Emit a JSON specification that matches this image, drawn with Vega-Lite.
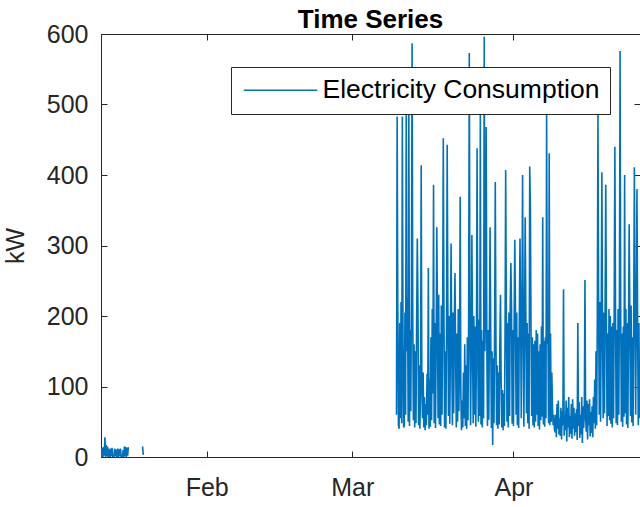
{
  "$schema": "https://vega.github.io/schema/vega-lite/v6.json",
  "width": 539,
  "height": 423,
  "autosize": {"type": "none"},
  "padding": {"left": 101, "top": 34, "right": 0, "bottom": 50},
  "background": "white",
  "title": {"text": "Time Series", "anchor": "middle", "font": "Liberation Sans", "fontSize": 26, "fontWeight": "bold", "color": "#000000", "offset": -11},
  "data": {"values": [
    {"t":"2023-01-11T16:00","v":12},{"t":"2023-01-11T19:00","v":0},{"t":"2023-01-11T22:00","v":13},
    {"t":"2023-01-12T01:00","v":0},{"t":"2023-01-12T04:00","v":14},{"t":"2023-01-12T07:00","v":2},{"t":"2023-01-12T10:00","v":28},{"t":"2023-01-12T13:00","v":0},{"t":"2023-01-12T16:00","v":17},{"t":"2023-01-12T19:00","v":1},{"t":"2023-01-12T22:00","v":15},
    {"t":"2023-01-13T01:00","v":0},{"t":"2023-01-13T04:00","v":12},{"t":"2023-01-13T07:00","v":0},{"t":"2023-01-13T10:00","v":0},{"t":"2023-01-13T13:00","v":12},{"t":"2023-01-13T16:00","v":1},{"t":"2023-01-13T19:00","v":13},{"t":"2023-01-13T22:00","v":0},
    {"t":"2023-01-14T01:00","v":0},{"t":"2023-01-14T04:00","v":0},{"t":"2023-01-14T07:00","v":12},{"t":"2023-01-14T10:00","v":1},{"t":"2023-01-14T13:00","v":11},{"t":"2023-01-14T16:00","v":0},{"t":"2023-01-14T19:00","v":0},{"t":"2023-01-14T22:00","v":12},
    {"t":"2023-01-15T01:00","v":0},{"t":"2023-01-15T04:00","v":11},{"t":"2023-01-15T07:00","v":1},{"t":"2023-01-15T10:00","v":12},{"t":"2023-01-15T13:00","v":0},{"t":"2023-01-15T16:00","v":0},{"t":"2023-01-15T19:00","v":0},{"t":"2023-01-15T22:00","v":10},
    {"t":"2023-01-16T01:00","v":0},{"t":"2023-01-16T04:00","v":15},{"t":"2023-01-16T07:00","v":1},{"t":"2023-01-16T10:00","v":14},{"t":"2023-01-16T13:00","v":0},{"t":"2023-01-16T16:00","v":13},{"t":"2023-01-16T19:00","v":2},{"t":"2023-01-16T22:00","v":14},
    {"t":"2023-01-17T01:00","v":null},
    {"t":"2023-01-19T16:00","v":15},{"t":"2023-01-19T19:00","v":3},
    {"t":"2023-01-20T00:00","v":null},
    {"t":"2023-03-09T12:00","v":60},{"t":"2023-03-09T15:00","v":483},{"t":"2023-03-09T18:00","v":210},{"t":"2023-03-09T21:00","v":45},
    {"t":"2023-03-10T00:00","v":40},{"t":"2023-03-10T03:00","v":190},{"t":"2023-03-10T06:00","v":55},{"t":"2023-03-10T09:00","v":220},{"t":"2023-03-10T12:00","v":48},{"t":"2023-03-10T15:00","v":483},{"t":"2023-03-10T18:00","v":170},{"t":"2023-03-10T21:00","v":42},
    {"t":"2023-03-11T00:00","v":45},{"t":"2023-03-11T03:00","v":205},{"t":"2023-03-11T06:00","v":60},{"t":"2023-03-11T09:00","v":520},{"t":"2023-03-11T12:00","v":150},{"t":"2023-03-11T15:00","v":225},{"t":"2023-03-11T18:00","v":50},{"t":"2023-03-11T21:00","v":500},
    {"t":"2023-03-12T00:00","v":44},{"t":"2023-03-12T03:00","v":180},{"t":"2023-03-12T06:00","v":65},{"t":"2023-03-12T09:00","v":230},{"t":"2023-03-12T12:00","v":587},{"t":"2023-03-12T15:00","v":200},{"t":"2023-03-12T18:00","v":52},{"t":"2023-03-12T21:00","v":160},
    {"t":"2023-03-13T00:00","v":42},{"t":"2023-03-13T03:00","v":150},{"t":"2023-03-13T06:00","v":48},{"t":"2023-03-13T09:00","v":190},{"t":"2023-03-13T12:00","v":310},{"t":"2023-03-13T15:00","v":215},{"t":"2023-03-13T18:00","v":45},{"t":"2023-03-13T21:00","v":130},
    {"t":"2023-03-14T00:00","v":40},{"t":"2023-03-14T03:00","v":95},{"t":"2023-03-14T06:00","v":414},{"t":"2023-03-14T09:00","v":110},{"t":"2023-03-14T12:00","v":55},{"t":"2023-03-14T15:00","v":120},{"t":"2023-03-14T18:00","v":42},{"t":"2023-03-14T21:00","v":85},
    {"t":"2023-03-15T00:00","v":38},{"t":"2023-03-15T03:00","v":75},{"t":"2023-03-15T06:00","v":45},{"t":"2023-03-15T09:00","v":118},{"t":"2023-03-15T12:00","v":60},{"t":"2023-03-15T15:00","v":268},{"t":"2023-03-15T18:00","v":40},{"t":"2023-03-15T21:00","v":110},
    {"t":"2023-03-16T00:00","v":43},{"t":"2023-03-16T03:00","v":170},{"t":"2023-03-16T06:00","v":52},{"t":"2023-03-16T09:00","v":210},{"t":"2023-03-16T12:00","v":90},{"t":"2023-03-16T15:00","v":386},{"t":"2023-03-16T18:00","v":48},{"t":"2023-03-16T21:00","v":190},
    {"t":"2023-03-17T00:00","v":41},{"t":"2023-03-17T03:00","v":160},{"t":"2023-03-17T06:00","v":326},{"t":"2023-03-17T09:00","v":200},{"t":"2023-03-17T12:00","v":55},{"t":"2023-03-17T15:00","v":230},{"t":"2023-03-17T18:00","v":46},{"t":"2023-03-17T21:00","v":175},
    {"t":"2023-03-18T00:00","v":44},{"t":"2023-03-18T03:00","v":215},{"t":"2023-03-18T06:00","v":60},{"t":"2023-03-18T09:00","v":195},{"t":"2023-03-18T12:00","v":452},{"t":"2023-03-18T15:00","v":205},{"t":"2023-03-18T18:00","v":42},{"t":"2023-03-18T21:00","v":150},
    {"t":"2023-03-19T00:00","v":40},{"t":"2023-03-19T03:00","v":180},{"t":"2023-03-19T06:00","v":443},{"t":"2023-03-19T09:00","v":220},{"t":"2023-03-19T12:00","v":58},{"t":"2023-03-19T15:00","v":200},{"t":"2023-03-19T18:00","v":47},{"t":"2023-03-19T21:00","v":165},
    {"t":"2023-03-20T00:00","v":303},{"t":"2023-03-20T03:00","v":150},{"t":"2023-03-20T06:00","v":45},{"t":"2023-03-20T09:00","v":205},{"t":"2023-03-20T12:00","v":62},{"t":"2023-03-20T15:00","v":190},{"t":"2023-03-20T18:00","v":261},{"t":"2023-03-20T21:00","v":140},
    {"t":"2023-03-21T00:00","v":42},{"t":"2023-03-21T03:00","v":175},{"t":"2023-03-21T06:00","v":50},{"t":"2023-03-21T09:00","v":210},{"t":"2023-03-21T12:00","v":65},{"t":"2023-03-21T15:00","v":150},{"t":"2023-03-21T18:00","v":369},{"t":"2023-03-21T21:00","v":90},
    {"t":"2023-03-22T00:00","v":38},{"t":"2023-03-22T03:00","v":80},{"t":"2023-03-22T06:00","v":42},{"t":"2023-03-22T09:00","v":120},{"t":"2023-03-22T12:00","v":55},{"t":"2023-03-22T15:00","v":160},{"t":"2023-03-22T18:00","v":44},{"t":"2023-03-22T21:00","v":130},
    {"t":"2023-03-23T00:00","v":40},{"t":"2023-03-23T03:00","v":170},{"t":"2023-03-23T06:00","v":52},{"t":"2023-03-23T09:00","v":190},{"t":"2023-03-23T12:00","v":573},{"t":"2023-03-23T15:00","v":180},{"t":"2023-03-23T18:00","v":45},{"t":"2023-03-23T21:00","v":150},
    {"t":"2023-03-24T00:00","v":315},{"t":"2023-03-24T03:00","v":160},{"t":"2023-03-24T06:00","v":48},{"t":"2023-03-24T09:00","v":200},{"t":"2023-03-24T12:00","v":60},{"t":"2023-03-24T15:00","v":185},{"t":"2023-03-24T18:00","v":43},{"t":"2023-03-24T21:00","v":140},
    {"t":"2023-03-25T00:00","v":438},{"t":"2023-03-25T03:00","v":170},{"t":"2023-03-25T06:00","v":50},{"t":"2023-03-25T09:00","v":195},{"t":"2023-03-25T12:00","v":58},{"t":"2023-03-25T15:00","v":490},{"t":"2023-03-25T18:00","v":46},{"t":"2023-03-25T21:00","v":180},
    {"t":"2023-03-26T00:00","v":42},{"t":"2023-03-26T03:00","v":165},{"t":"2023-03-26T06:00","v":55},{"t":"2023-03-26T09:00","v":596},{"t":"2023-03-26T12:00","v":150},{"t":"2023-03-26T15:00","v":210},{"t":"2023-03-26T18:00","v":468},{"t":"2023-03-26T21:00","v":160},
    {"t":"2023-03-27T00:00","v":44},{"t":"2023-03-27T03:00","v":180},{"t":"2023-03-27T06:00","v":53},{"t":"2023-03-27T09:00","v":190},{"t":"2023-03-27T12:00","v":326},{"t":"2023-03-27T15:00","v":175},{"t":"2023-03-27T18:00","v":41},{"t":"2023-03-27T21:00","v":150},
    {"t":"2023-03-28T00:00","v":17},{"t":"2023-03-28T03:00","v":140},{"t":"2023-03-28T06:00","v":48},{"t":"2023-03-28T09:00","v":185},{"t":"2023-03-28T12:00","v":390},{"t":"2023-03-28T15:00","v":170},{"t":"2023-03-28T18:00","v":45},{"t":"2023-03-28T21:00","v":130},
    {"t":"2023-03-29T00:00","v":40},{"t":"2023-03-29T03:00","v":120},{"t":"2023-03-29T06:00","v":46},{"t":"2023-03-29T09:00","v":160},{"t":"2023-03-29T12:00","v":230},{"t":"2023-03-29T15:00","v":110},{"t":"2023-03-29T18:00","v":42},{"t":"2023-03-29T21:00","v":95},
    {"t":"2023-03-30T00:00","v":38},{"t":"2023-03-30T03:00","v":90},{"t":"2023-03-30T06:00","v":44},{"t":"2023-03-30T09:00","v":170},{"t":"2023-03-30T12:00","v":407},{"t":"2023-03-30T15:00","v":200},{"t":"2023-03-30T18:00","v":50},{"t":"2023-03-30T21:00","v":190},
    {"t":"2023-03-31T00:00","v":42},{"t":"2023-03-31T03:00","v":205},{"t":"2023-03-31T06:00","v":58},{"t":"2023-03-31T09:00","v":215},{"t":"2023-03-31T12:00","v":275},{"t":"2023-03-31T15:00","v":210},{"t":"2023-03-31T18:00","v":47},{"t":"2023-03-31T21:00","v":180},
    {"t":"2023-04-01T00:00","v":44},{"t":"2023-04-01T03:00","v":190},{"t":"2023-04-01T06:00","v":308},{"t":"2023-04-01T09:00","v":215},{"t":"2023-04-01T12:00","v":60},{"t":"2023-04-01T15:00","v":205},{"t":"2023-04-01T18:00","v":45},{"t":"2023-04-01T21:00","v":170},
    {"t":"2023-04-02T00:00","v":41},{"t":"2023-04-02T03:00","v":195},{"t":"2023-04-02T06:00","v":310},{"t":"2023-04-02T09:00","v":200},{"t":"2023-04-02T12:00","v":55},{"t":"2023-04-02T15:00","v":210},{"t":"2023-04-02T18:00","v":400},{"t":"2023-04-02T21:00","v":180},
    {"t":"2023-04-03T00:00","v":43},{"t":"2023-04-03T03:00","v":185},{"t":"2023-04-03T06:00","v":340},{"t":"2023-04-03T09:00","v":205},{"t":"2023-04-03T12:00","v":62},{"t":"2023-04-03T15:00","v":190},{"t":"2023-04-03T18:00","v":48},{"t":"2023-04-03T21:00","v":175},
    {"t":"2023-04-04T00:00","v":40},{"t":"2023-04-04T03:00","v":412},{"t":"2023-04-04T06:00","v":355},{"t":"2023-04-04T09:00","v":180},{"t":"2023-04-04T12:00","v":58},{"t":"2023-04-04T15:00","v":170},{"t":"2023-04-04T18:00","v":45},{"t":"2023-04-04T21:00","v":160},
    {"t":"2023-04-05T00:00","v":42},{"t":"2023-04-05T03:00","v":165},{"t":"2023-04-05T06:00","v":50},{"t":"2023-04-05T09:00","v":180},{"t":"2023-04-05T12:00","v":60},{"t":"2023-04-05T15:00","v":175},{"t":"2023-04-05T18:00","v":44},{"t":"2023-04-05T21:00","v":150},
    {"t":"2023-04-06T00:00","v":39},{"t":"2023-04-06T03:00","v":160},{"t":"2023-04-06T06:00","v":52},{"t":"2023-04-06T09:00","v":185},{"t":"2023-04-06T12:00","v":57},{"t":"2023-04-06T15:00","v":340},{"t":"2023-04-06T18:00","v":46},{"t":"2023-04-06T21:00","v":165},
    {"t":"2023-04-07T00:00","v":43},{"t":"2023-04-07T03:00","v":170},{"t":"2023-04-07T06:00","v":55},{"t":"2023-04-07T09:00","v":489},{"t":"2023-04-07T12:00","v":160},{"t":"2023-04-07T15:00","v":180},{"t":"2023-04-07T18:00","v":48},{"t":"2023-04-07T21:00","v":431},
    {"t":"2023-04-08T00:00","v":45},{"t":"2023-04-08T03:00","v":175},{"t":"2023-04-08T06:00","v":50},{"t":"2023-04-08T09:00","v":120},{"t":"2023-04-08T12:00","v":70},{"t":"2023-04-08T15:00","v":45},{"t":"2023-04-08T18:00","v":60},{"t":"2023-04-08T21:00","v":40},
    {"t":"2023-04-09T00:00","v":35},{"t":"2023-04-09T03:00","v":60},{"t":"2023-04-09T06:00","v":28},{"t":"2023-04-09T09:00","v":75},{"t":"2023-04-09T12:00","v":40},{"t":"2023-04-09T15:00","v":80},{"t":"2023-04-09T18:00","v":32},{"t":"2023-04-09T21:00","v":55},
    {"t":"2023-04-10T00:00","v":30},{"t":"2023-04-10T03:00","v":70},{"t":"2023-04-10T06:00","v":25},{"t":"2023-04-10T09:00","v":65},{"t":"2023-04-10T12:00","v":45},{"t":"2023-04-10T15:00","v":238},{"t":"2023-04-10T18:00","v":30},{"t":"2023-04-10T21:00","v":60},
    {"t":"2023-04-11T00:00","v":38},{"t":"2023-04-11T03:00","v":80},{"t":"2023-04-11T06:00","v":22},{"t":"2023-04-11T09:00","v":70},{"t":"2023-04-11T12:00","v":42},{"t":"2023-04-11T15:00","v":85},{"t":"2023-04-11T18:00","v":28},{"t":"2023-04-11T21:00","v":58},
    {"t":"2023-04-12T00:00","v":33},{"t":"2023-04-12T03:00","v":75},{"t":"2023-04-12T06:00","v":26},{"t":"2023-04-12T09:00","v":82},{"t":"2023-04-12T12:00","v":40},{"t":"2023-04-12T15:00","v":70},{"t":"2023-04-12T18:00","v":30},{"t":"2023-04-12T21:00","v":62},
    {"t":"2023-04-13T00:00","v":35},{"t":"2023-04-13T03:00","v":68},{"t":"2023-04-13T06:00","v":24},{"t":"2023-04-13T09:00","v":190},{"t":"2023-04-13T12:00","v":44},{"t":"2023-04-13T15:00","v":78},{"t":"2023-04-13T18:00","v":27},{"t":"2023-04-13T21:00","v":60},
    {"t":"2023-04-14T00:00","v":32},{"t":"2023-04-14T03:00","v":85},{"t":"2023-04-14T06:00","v":20},{"t":"2023-04-14T09:00","v":72},{"t":"2023-04-14T12:00","v":41},{"t":"2023-04-14T15:00","v":66},{"t":"2023-04-14T18:00","v":251},{"t":"2023-04-14T21:00","v":55},
    {"t":"2023-04-15T00:00","v":36},{"t":"2023-04-15T03:00","v":80},{"t":"2023-04-15T06:00","v":25},{"t":"2023-04-15T09:00","v":75},{"t":"2023-04-15T12:00","v":45},{"t":"2023-04-15T15:00","v":82},{"t":"2023-04-15T18:00","v":29},{"t":"2023-04-15T21:00","v":64},
    {"t":"2023-04-16T00:00","v":34},{"t":"2023-04-16T03:00","v":72},{"t":"2023-04-16T06:00","v":28},{"t":"2023-04-16T09:00","v":85},{"t":"2023-04-16T12:00","v":48},{"t":"2023-04-16T15:00","v":110},{"t":"2023-04-16T18:00","v":40},{"t":"2023-04-16T21:00","v":150},
    {"t":"2023-04-17T00:00","v":45},{"t":"2023-04-17T03:00","v":200},{"t":"2023-04-17T06:00","v":488},{"t":"2023-04-17T09:00","v":210},{"t":"2023-04-17T12:00","v":60},{"t":"2023-04-17T15:00","v":220},{"t":"2023-04-17T18:00","v":50},{"t":"2023-04-17T21:00","v":195},
    {"t":"2023-04-18T00:00","v":404},{"t":"2023-04-18T03:00","v":180},{"t":"2023-04-18T06:00","v":55},{"t":"2023-04-18T09:00","v":205},{"t":"2023-04-18T12:00","v":62},{"t":"2023-04-18T15:00","v":215},{"t":"2023-04-18T18:00","v":386},{"t":"2023-04-18T21:00","v":190},
    {"t":"2023-04-19T00:00","v":44},{"t":"2023-04-19T03:00","v":175},{"t":"2023-04-19T06:00","v":58},{"t":"2023-04-19T09:00","v":210},{"t":"2023-04-19T12:00","v":52},{"t":"2023-04-19T15:00","v":200},{"t":"2023-04-19T18:00","v":47},{"t":"2023-04-19T21:00","v":185},
    {"t":"2023-04-20T00:00","v":42},{"t":"2023-04-20T03:00","v":190},{"t":"2023-04-20T06:00","v":55},{"t":"2023-04-20T09:00","v":220},{"t":"2023-04-20T12:00","v":440},{"t":"2023-04-20T15:00","v":205},{"t":"2023-04-20T18:00","v":48},{"t":"2023-04-20T21:00","v":180},
    {"t":"2023-04-21T00:00","v":45},{"t":"2023-04-21T03:00","v":210},{"t":"2023-04-21T06:00","v":60},{"t":"2023-04-21T09:00","v":215},{"t":"2023-04-21T12:00","v":576},{"t":"2023-04-21T15:00","v":200},{"t":"2023-04-21T18:00","v":50},{"t":"2023-04-21T21:00","v":175},
    {"t":"2023-04-22T00:00","v":43},{"t":"2023-04-22T03:00","v":185},{"t":"2023-04-22T06:00","v":57},{"t":"2023-04-22T09:00","v":400},{"t":"2023-04-22T12:00","v":62},{"t":"2023-04-22T15:00","v":210},{"t":"2023-04-22T18:00","v":46},{"t":"2023-04-22T21:00","v":190},
    {"t":"2023-04-23T00:00","v":41},{"t":"2023-04-23T03:00","v":180},{"t":"2023-04-23T06:00","v":330},{"t":"2023-04-23T09:00","v":205},{"t":"2023-04-23T12:00","v":58},{"t":"2023-04-23T15:00","v":215},{"t":"2023-04-23T18:00","v":49},{"t":"2023-04-23T21:00","v":170},
    {"t":"2023-04-24T00:00","v":44},{"t":"2023-04-24T03:00","v":195},{"t":"2023-04-24T06:00","v":411},{"t":"2023-04-24T09:00","v":210},{"t":"2023-04-24T12:00","v":60},{"t":"2023-04-24T15:00","v":200},{"t":"2023-04-24T18:00","v":380},{"t":"2023-04-24T21:00","v":185},
    {"t":"2023-04-25T00:00","v":45},{"t":"2023-04-25T03:00","v":190},{"t":"2023-04-25T06:00","v":55}
  ]},
  "layer": [
    {
      "mark": {"type": "line", "strokeWidth": 1.6, "clip": true, "invalid": "break-paths-show-domains"},
      "encoding": {
        "x": {"field": "t", "type": "temporal",
          "scale": {"domain": [{"year": 2023, "month": 1, "date": 11, "hours": 16}, {"year": 2023, "month": 4, "date": 25, "hours": 8}], "nice": false},
          "axis": {"orient": "bottom", "title": null, "format": "%b", "tickCount": {"interval": "month", "step": 1}, "labelPadding": 24, "labelFlush": false}},
        "y": {"field": "v", "type": "quantitative",
          "scale": {"domain": [0, 600], "nice": false},
          "axis": {"orient": "left", "title": "kW", "values": [0, 100, 200, 300, 400, 500, 600], "labelPadding": 19, "titlePadding": 18, "labelFlush": false}},
        "color": {"datum": "Electricity Consumption", "type": "nominal",
          "scale": {"range": ["#0072BD"]},
          "legend": {"orient": "none", "legendX": 130, "legendY": 33, "title": null,
            "symbolType": "M-1,0H6", "symbolSize": 441, "symbolStrokeWidth": 1.5,
            "labelFont": "Liberation Sans", "labelFontSize": 26.5, "labelColor": "#000000", "labelOffset": 55, "labelLimit": 500,
            "padding": 10, "strokeColor": "#262626", "fillColor": "#ffffff", "cornerRadius": 0}}
      }
    },
    {
      "mark": {"type": "line", "strokeOpacity": 0, "clip": true, "invalid": "break-paths-show-domains"},
      "encoding": {
        "x": {"field": "t", "type": "temporal",
          "axis": {"orient": "top", "title": null, "labels": false, "tickCount": {"interval": "month", "step": 1}}},
        "y": {"field": "v", "type": "quantitative",
          "axis": {"orient": "right", "title": null, "labels": false, "values": [0, 100, 200, 300, 400, 500, 600]}}
      }
    }
  ],
  "resolve": {"axis": {"x": "independent", "y": "independent"}},
  "config": {
    "view": {"stroke": null},
    "axis": {"grid": false, "domainColor": "#262626", "domainWidth": 1, "tickColor": "#262626", "tickWidth": 1, "tickSize": -6,
      "labelColor": "#262626", "labelFont": "Liberation Sans", "labelFontSize": 25,
      "titleColor": "#262626", "titleFont": "Liberation Sans", "titleFontSize": 25, "titleFontWeight": "normal"}
  }
}
